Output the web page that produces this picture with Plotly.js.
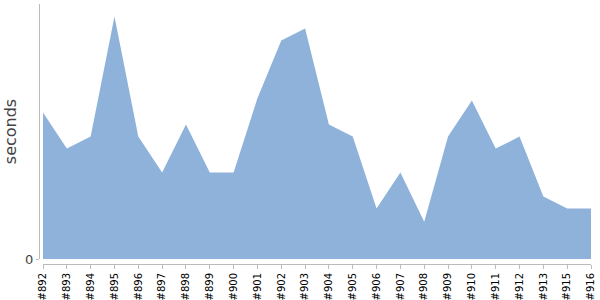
<!DOCTYPE html>
<html>
<head>
<meta charset="utf-8">
<script src="https://cdn.plot.ly/plotly-3.0.1.min.js"></script>
<style>html,body{margin:0;padding:0;background:#fff;}#chart{width:600px;height:300px;}</style>
</head>
<body>
<div id="chart"></div>
<script>
const builds = ["#892","#893","#894","#895","#896","#897","#898","#899","#900","#901","#902","#903","#904","#905","#906","#907","#908","#909","#910","#911","#912","#913","#915","#916"];
const seconds = [12.2,9.2,10.2,20.2,10.2,7.2,11.2,7.2,7.2,13.4,18.2,19.2,11.2,10.2,4.2,7.2,3.1,10.2,13.2,9.2,10.2,5.2,4.2,4.2];
const yTickVals = [0];
const yTickText = ["0"];

const W = 600, H = 300;
const mL = 39, mR = 9, mT = 4, mB = 36;
const pw = W - mL - mR, ph = H - mT - mB;

Plotly.newPlot('chart', [{
  x: builds.map((b, i) => i),
  y: seconds,
  type: 'scatter',
  mode: 'lines',
  fill: 'tozeroy',
  fillcolor: 'rgb(143,178,218)',
  line: {color: 'rgb(143,178,218)', width: 0},
  hoverinfo: 'skip'
}], {
  width: W, height: H,
  margin: {l: mL, r: mR, t: mT, b: mB},
  paper_bgcolor: '#fff', plot_bgcolor: '#fff',
  showlegend: false,
  xaxis: {
    domain: [4 / pw, 1],
    range: [0, builds.length - 1],
    tickmode: 'array',
    tickvals: builds.map((b, i) => i),
    ticktext: builds,
    tickangle: -90,
    tickfont: {family: 'DejaVu Sans', size: 10, color: '#000'},
    showgrid: false, zeroline: false,
    showline: true, linecolor: '#bbb', linewidth: 1,
    ticks: 'outside', ticklen: 4, tickcolor: '#bbb',
    anchor: 'free', position: 0, fixedrange: true
  },
  yaxis: {
    domain: [5 / ph, 1],
    range: [0, 21.25],
    tickmode: 'array',
    tickvals: yTickVals,
    ticktext: yTickText,
    tickfont: {family: 'DejaVu Sans', size: 13, color: '#444'},
    showgrid: false, zeroline: false,
    showline: true, linecolor: '#bbb', linewidth: 1,
    ticks: 'outside', ticklen: 3, tickcolor: '#bbb',
    anchor: 'free', position: 0,
    title: {text: 'seconds', font: {family: 'DejaVu Sans', size: 16, color: '#444'}, standoff: 3},
    fixedrange: true
  }
}, {staticPlot: true});
</script>
</body>
</html>
